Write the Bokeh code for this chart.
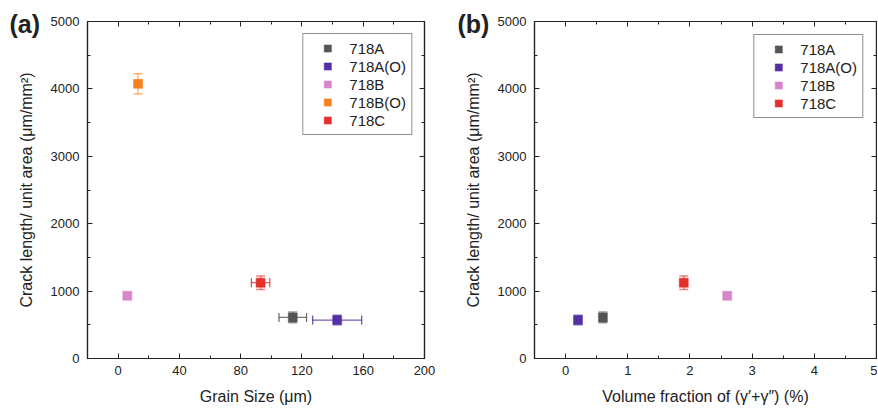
from bokeh.plotting import figure
from bokeh.models import (ColumnDataSource, Whisker, TeeHead, LinearAxis, SingleIntervalTicker,
                          Legend, LegendItem, Range1d)
from bokeh.layouts import row
from bokeh.embed import file_html
from bokeh.resources import INLINE

# ---- data ----
names_a = ["718A", "718A(O)", "718B", "718B(O)", "718C"]
colors_a = ["#555555", "#5530a5", "#d985cc", "#f5821f", "#e3302a"]
grain_size = [114, 143, 6, 13, 93]
grain_err = [9, 16, 0, 0, 6]
crack_a = [610, 570, 930, 4075, 1125]
crack_err_a = [80, 70, 30, 150, 100]

names_b = ["718A", "718A(O)", "718B", "718C"]
colors_b = ["#555555", "#5530a5", "#d985cc", "#e3302a"]
vol_frac = [0.6, 0.2, 2.6, 1.9]
crack_b = [610, 570, 930, 1125]
crack_err_b = [80, 70, 30, 100]

FONT = "Liberation Sans"
H = 409


def style_axis(ax, show_labels=True):
    ax.major_tick_in = 5
    ax.major_tick_out = 0
    ax.minor_tick_in = 3
    ax.minor_tick_out = 0
    ax.axis_line_color = "#222222"
    ax.axis_line_width = 1.2
    ax.major_tick_line_color = "#222222"
    ax.minor_tick_line_color = "#222222"
    ax.major_label_text_font = FONT
    ax.major_label_text_font_size = "13px"
    ax.major_label_text_color = "#222222"
    ax.axis_label_text_font = FONT
    ax.axis_label_text_font_size = "16px"
    ax.axis_label_text_font_style = "normal"
    ax.axis_label_text_color = "#222222"
    if not show_labels:
        ax.major_label_text_alpha = 0
        ax.major_label_text_font_size = "0px"
        ax.major_label_standoff = 0


def make_panel(width, xr, xint, xlabel, names, colors, xs, xerr, ys, yerr,
               bl, br, bt, bb, legend_margin, tag, tag_offset):
    p = figure(width=width, height=H, output_backend="svg", toolbar_location=None,
               x_range=Range1d(*xr), y_range=Range1d(0, 5000),
               min_border_left=bl, min_border_right=br, min_border_top=bt, min_border_bottom=bb)
    p.grid.visible = False
    p.outline_line_color = "#222222"
    p.outline_line_width = 1.2
    p.background_fill_color = "white"

    p.xaxis.ticker = SingleIntervalTicker(interval=xint, num_minor_ticks=2)
    p.yaxis.ticker = SingleIntervalTicker(interval=1000, num_minor_ticks=2)
    p.xaxis.axis_label = xlabel
    p.yaxis.axis_label = "Crack length/ unit area (\u03bcm/mm\u00b2)"
    for ax in p.xaxis:
        style_axis(ax)
        ax.major_label_standoff = 7
        ax.axis_label_standoff = 10
    for ax in p.yaxis:
        style_axis(ax)
        ax.major_label_standoff = 8
        ax.axis_label_standoff = 13

    top = LinearAxis(ticker=SingleIntervalTicker(interval=xint, num_minor_ticks=2))
    style_axis(top, False)
    right = LinearAxis(ticker=SingleIntervalTicker(interval=1000, num_minor_ticks=2))
    style_axis(right, False)
    p.add_layout(top, "above")
    p.add_layout(right, "right")

    items = []
    for i, n in enumerate(names):
        src = ColumnDataSource(dict(x=[xs[i]], y=[ys[i]],
                                    xl=[xs[i] - xerr[i]], xu=[xs[i] + xerr[i]],
                                    yl=[ys[i] - yerr[i]], yu=[ys[i] + yerr[i]]))
        c = colors[i]
        if yerr[i] > 0:
            w = Whisker(source=src, base="x", lower="yl", upper="yu", dimension="height",
                        line_color=c, line_alpha=0.55, line_width=1.5,
                        upper_head=TeeHead(size=9, line_color=c, line_alpha=0.6, line_width=1.5),
                        lower_head=TeeHead(size=9, line_color=c, line_alpha=0.6, line_width=1.5))
            p.add_layout(w)
        if xerr[i] > 0:
            w = Whisker(source=src, base="y", lower="xl", upper="xu", dimension="width",
                        line_color=c, line_alpha=0.8, line_width=1.2,
                        upper_head=TeeHead(size=9, line_color=c, line_alpha=0.9, line_width=1.2),
                        lower_head=TeeHead(size=9, line_color=c, line_alpha=0.9, line_width=1.2))
            p.add_layout(w)
        r = p.scatter("x", "y", source=src, marker="square", size=9, fill_color=c,
                      line_color=c, line_alpha=0.5, line_width=1)
        items.append(LegendItem(label=n, renderers=[r]))

    leg = Legend(items=items, location="top_right", margin=legend_margin,
                 label_text_font=FONT, label_text_font_size="15px", label_text_color="#222222",
                 glyph_width=38, glyph_height=18, label_height=18, label_standoff=3,
                 spacing=0, padding=5, border_line_color="#222222", border_line_width=1.2,
                 background_fill_alpha=1)
    p.add_layout(leg)

    p.title.text = tag
    p.title.align = "left"
    p.title.offset = tag_offset
    p.title.standoff = -32
    p.title.text_font = FONT
    p.title.text_font_size = "25px"
    p.title.text_font_style = "bold"
    p.title.text_color = "#222222"
    return p


pa = make_panel(440, (-20, 200), 40, "Grain Size (\u03bcm)", names_a, colors_a,
                grain_size, grain_err, crack_a, crack_err_a, 87, 16, 21, 51, 12, "(a)", -78)
pb = make_panel(437, (-0.5, 5), 1, "Volume fraction of (\u03b3\u2032+\u03b3\u2033) (%)", names_b, colors_b,
                vol_frac, [0, 0, 0, 0], crack_b, crack_err_b, 94, 1, 19, 51, 13, "(b)", -77)

layout = row(pa, pb)
open("out.html", "w").write(file_html(layout, INLINE))
